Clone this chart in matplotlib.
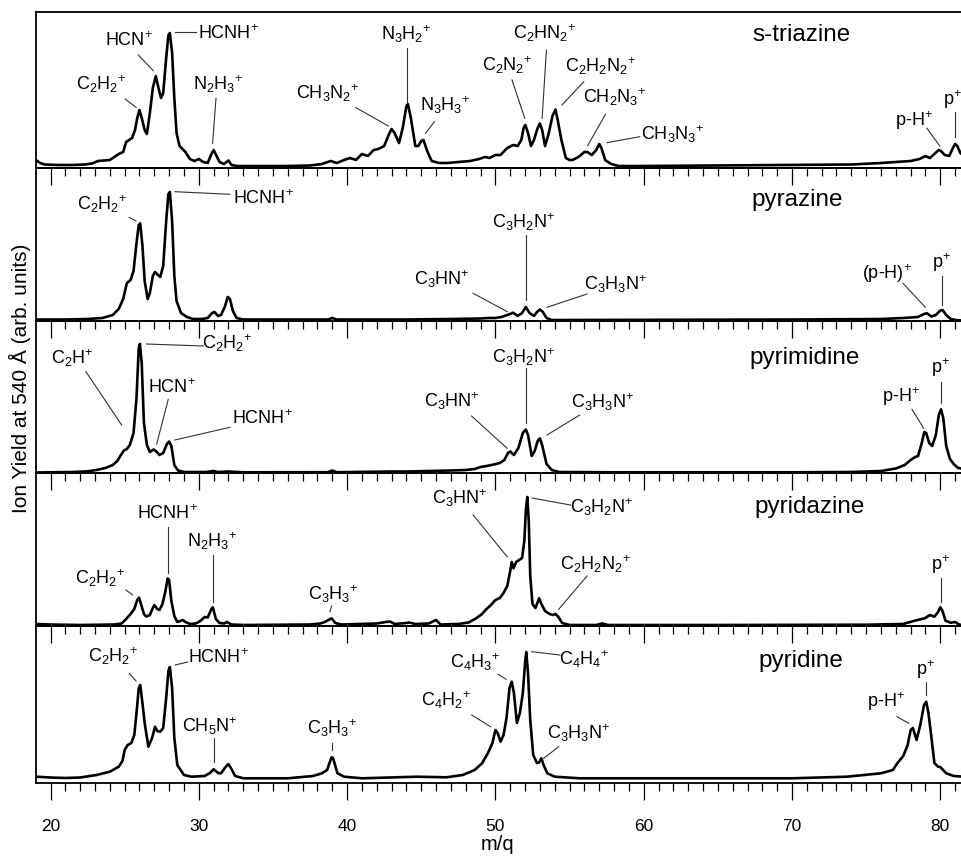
import matplotlib
matplotlib.use("Agg")
import matplotlib.pyplot as plt
from matplotlib.ticker import MultipleLocator

# ---------------- data (m/q, ion yield in arb. units) ----------------
striazine_mz = [19.02, 19.3, 19.6, 20.5, 21.5, 22.3, 22.8, 23.2, 23.6, 24.0, 24.3, 24.6, 24.9, 25.1, 25.3,
                25.5, 25.7, 25.85, 26.0, 26.15, 26.35, 26.5, 26.7, 26.9, 27.1, 27.25, 27.45, 27.6, 27.8,
                27.95, 28.05, 28.2, 28.35, 28.5, 28.7, 28.9, 29.1, 29.4, 29.7, 30.0, 30.3, 30.6, 30.85,
                31.0, 31.2, 31.4, 31.7, 32.0, 32.2, 32.6, 34, 36, 37.5, 38.3, 38.9, 39.3, 39.8, 40.2,
                40.6, 41.0, 41.4, 41.8, 42.1, 42.5, 42.8, 43.0, 43.2, 43.5, 43.75, 44.0, 44.1, 44.3,
                44.6, 44.8, 45.0, 45.15, 45.4, 45.7, 46.2, 46.8, 47.5, 48.3, 48.9, 49.3, 49.6, 50.0,
                50.34, 50.8, 51.2, 51.5, 51.75, 51.9, 52.02, 52.2, 52.4, 52.6, 52.85, 53.0, 53.15,
                53.35, 53.6, 53.85, 54.05, 54.2, 54.45, 54.75, 55.0, 55.2, 55.6, 56.0, 56.2, 56.5,
                56.8, 57.0, 57.15, 57.4, 57.8, 58.3, 60, 65, 70, 74, 76, 77, 78, 78.6, 79.0, 79.3,
                79.6, 79.9, 80.05, 80.3, 80.6, 80.85, 81.0, 81.15, 81.35, 81.6]
striazine_y = [8, 5, 3.5, 3, 3, 3.5, 4.5, 7, 7.5, 8, 11, 14, 16, 26, 28,
               30, 38, 50, 58, 50, 38, 34, 55, 80, 92, 82, 70, 75, 110,
               133, 135, 115, 70, 35, 22, 19, 16, 9, 7, 9, 6, 5, 14,
               18, 12, 6, 4, 7.5, 3, 2, 2, 2, 2.5, 4, 7, 5, 8, 10,
               8, 14, 12, 18, 19, 22, 33, 39, 35, 25, 40, 62, 64, 50,
               22, 22, 27, 28, 17, 7, 5, 5, 6, 7, 9, 11, 10, 13,
               13, 20, 23, 22, 28, 40, 43, 35, 22, 28, 40, 44.5, 38,
               22, 35, 52, 58.5, 48, 28, 10, 8, 8, 11, 16, 16, 13,
               18, 24, 20, 8, 4, 2, 2, 2.5, 3, 3.5, 5, 6, 7, 9, 12, 10,
               14, 18, 17, 13, 12, 20, 24, 22, 15, 12]

pyrazine_mz = [19.02, 21, 22.5, 23.5, 24.2, 24.6, 24.9, 25.15, 25.4, 25.6, 25.8, 25.95, 26.05, 26.2,
               26.35, 26.55, 26.7, 26.9, 27.05, 27.25, 27.4, 27.6, 27.8, 27.95, 28.05, 28.2, 28.35,
               28.5, 28.8, 29.2, 29.6, 30.2, 30.6, 30.9, 31.05, 31.3, 31.5, 31.75, 31.95, 32.1, 32.3,
               32.55, 33, 35, 38.7, 39.0, 39.3, 44, 47, 49, 49.5, 50.0, 50.4, 50.8, 51.2, 51.5, 51.8,
               52.05, 52.3, 52.6, 52.8, 53.0, 53.2, 53.45, 53.8, 55, 70, 76, 77.5, 78.5, 78.9, 79.1,
               79.4, 79.7, 80.0, 80.15, 80.4, 80.7, 81.1, 81.6]
pyrazine_y = [1.5, 1.5, 2, 3, 6, 12, 22, 38, 41, 50, 78, 96, 97.7, 75,
              40, 22, 28, 45, 49, 46, 44, 55, 100, 127, 129, 100, 45,
              20, 8, 4, 2, 2, 3, 8, 9, 5, 6, 14, 24, 22, 10,
              3, 1.5, 1.5, 1.5, 3, 1.5, 1.5, 2, 2.5, 3, 3, 4, 6, 8.3, 5, 8,
              14, 8, 5, 9, 11.5, 9, 3, 1, 1, 1.5, 2, 3, 4, 7, 7.7,
              4.5, 6, 10.5, 11, 6, 2, 0.8, 0.5]

pyrimidine_mz = [19.02, 21.5, 22.5, 23.1, 23.7, 24.2, 24.5, 24.75, 24.95, 25.15, 25.35, 25.6, 25.8,
                 25.95, 26.03, 26.15, 26.3, 26.5, 26.7, 26.95, 27.1, 27.35, 27.6, 27.85, 28.0, 28.15,
                 28.35, 28.6, 29.0, 30.5, 31.0, 31.3, 32.0, 33, 38.7, 39.0, 39.3, 43, 44, 47, 48,
                 48.6, 49.0, 49.4, 49.9, 50.3, 50.6, 50.85, 51.0, 51.25, 51.55, 51.85, 52.05, 52.2,
                 52.45, 52.65, 52.85, 53.0, 53.15, 53.45, 53.8, 54.3, 58, 70, 74, 76, 77, 77.6, 78.0,
                 78.3, 78.5, 78.75, 78.92, 79.05, 79.25, 79.45, 79.7, 79.9, 80.05, 80.2, 80.4, 80.65,
                 80.9, 81.2, 81.6]
pyrimidine_y = [0.5, 1, 1.7, 3, 5, 8, 12, 18, 22.5, 24, 28, 40, 75,
                125, 129, 110, 50, 28, 21, 23.5, 22, 18, 20, 29, 31.5, 27,
                8, 2.5, 1, 1, 2, 1, 1.5, 0.7, 0.8, 2.5, 0.8, 1.5, 1.5, 2.5, 3,
                4, 6, 7, 8.5, 10, 13, 20, 21.5, 18, 25, 40, 43.5, 38,
                17, 22, 32, 34.7, 28, 9, 3, 1, 0.7, 0.7, 1, 2, 4.5, 8, 13,
                16, 17, 30, 41, 40, 30, 27, 38, 58, 63.7, 55, 27, 14,
                9, 5, 4]

pyridazine_mz = [19.02, 20, 22, 24.3, 24.8, 25.1, 25.4, 25.65, 25.85, 25.97, 26.1, 26.3, 26.45, 26.7,
                 26.9, 27.0, 27.2, 27.35, 27.55, 27.75, 27.9, 28.0, 28.15, 28.35, 28.55, 28.75, 28.9,
                 29.1, 29.4, 29.8, 30.1, 30.4, 30.6, 30.85, 30.95, 31.15, 31.4, 31.7, 31.9, 32.2, 33,
                 37.5, 38.2, 38.5, 38.8, 38.95, 39.2, 39.6, 42.0, 42.6, 42.9, 43.2, 44.0, 44.2, 44.6,
                 45.5, 46.0, 46.3, 47.5, 48.2, 48.7, 49.1, 49.4, 49.7, 50.0, 50.3, 50.55, 50.8, 51.0,
                 51.1, 51.22, 51.4, 51.6, 51.8, 51.95, 52.05, 52.15, 52.25, 52.35, 52.5, 52.7, 52.95,
                 53.1, 53.35, 53.6, 53.85, 54.05, 54.25, 54.5, 55.0, 56.8, 57.2, 57.6, 65, 75, 77.5,
                 78.2, 78.6, 78.95, 79.3, 79.6, 79.85, 80.0, 80.15, 80.35, 80.7, 81.0, 81.3, 81.6]
pyridazine_y = [2, 1.5, 1, 1.5, 2.5, 7, 12, 17, 26, 28.3, 22, 12, 9.5, 11,
                18, 21, 17, 16, 22, 35, 47.5, 46, 25, 10, 4, 5, 6,
                4, 2, 2.5, 5, 9, 8.5, 17, 18.7, 7, 3, 2.5, 4, 1.5, 1,
                1.5, 2.5, 4, 6.5, 7.7, 3, 1.5, 2.5, 4, 4.5, 2, 3, 3.5, 2,
                2.5, 6, 1.5, 2, 3.5, 7.7, 12, 17, 21, 26, 28, 33, 40, 55,
                64, 57.7, 64, 66, 68, 85, 115, 129, 105, 50, 22, 18, 27.7,
                22, 15, 12.5, 11, 12, 9, 3, 1, 1, 2.5, 1, 1, 1.3, 2,
                5, 6.5, 7.7, 11, 9.3, 14, 18.7, 15, 5.3, 3.3, 4, 1.3, 1]

pyridine_mz = [19.02, 20, 21, 22, 23.1, 24.0, 24.6, 24.85, 25.0, 25.2, 25.45, 25.65, 25.8, 25.95, 26.05,
               26.2, 26.35, 26.6, 26.85, 27.05, 27.2, 27.4, 27.6, 27.8, 27.95, 28.05, 28.2, 28.35,
               28.55, 29.0, 29.5, 30.4, 30.75, 31.0, 31.3, 31.5, 31.8, 32.0, 32.2, 32.45, 33.0, 36,
               37.7, 38.3, 38.65, 38.95, 39.05, 39.35, 39.8, 41, 44.7, 46.7, 47.8, 48.6, 49.1, 49.5,
               49.8, 50.0, 50.15, 50.35, 50.55, 50.75, 50.95, 51.1, 51.25, 51.45, 51.65, 51.85, 52.0,
               52.08, 52.2, 52.35, 52.55, 52.8, 52.95, 53.1, 53.25, 53.5, 54.0, 55.7, 70, 73.7, 76.0,
               76.8, 77.1, 77.5, 77.8, 78.0, 78.15, 78.4, 78.65, 78.9, 79.05, 79.2, 79.4, 79.6,
               79.85, 80.0, 80.4, 80.9, 81.6]
pyridine_y = [6.3, 5.5, 5, 5.5, 8, 11.3, 16.3, 22, 33, 38, 40, 48, 70, 95, 98,
              80, 60, 36.3, 45, 56.3, 52, 51.3, 55, 85, 112, 116, 95, 45,
              18, 8, 6.3, 7, 10, 13.7, 10, 9.7, 16, 19, 14, 7, 4.7, 4.7,
              7, 9.7, 13, 25.7, 25, 9.7, 6.3, 4.7, 6.3, 5.7, 8, 13, 19.7, 30,
              40, 53, 50, 41.3, 48, 65, 95, 101.3, 90, 60, 70, 90, 120,
              131, 110, 63, 28, 20, 20.5, 24.7, 18, 9.7, 6.3, 4.7, 4.7, 6.3, 9.7,
              13, 19.7, 27, 38, 53, 55, 43, 58, 78, 81.3, 70, 46, 20,
              16.3, 16, 9.7, 7, 6.3]

molecules = ["s-triazine", "pyrazine", "pyrimidine", "pyridazine", "pyridine"]
series_mz = [striazine_mz, pyrazine_mz, pyrimidine_mz, pyridazine_mz, pyridine_mz]
series_y = [striazine_y, pyrazine_y, pyrimidine_y, pyridazine_y, pyridine_y]

x_ticks = [20, 30, 40, 50, 60, 70, 80]

# ---------------- peak labels (layout) ----------------
# (label, text x, text y, leader x1, y1, x2, y2)
labels_striazine = [
    ("C2H2+", 23.43, 83.7, 25.03, 69, 25.77, 60.7),
    ("HCN+", 25.27, 127.3, 25.92, 113, 26.93, 97.3),
    ("HCNH+", 31.99, 134.7, 28.39, 135.7, 29.78, 135.7),
    ("N2H3+", 31.31, 84, 31.16, 69.7, 30.93, 24.7),
    ("CH3N2+", 38.66, 74.7, 40.6, 60.3, 42.78, 42),
    ("N3H2+", 44.01, 134, 44.01, 119.7, 44.01, 64.7),
    ("N3H3+", 46.62, 63, 45.89, 46.3, 45.29, 34.7),
    ("C2N2+", 50.79, 103, 51.12, 88, 51.98, 49.7),
    ("C2HN2+", 53.35, 134.7, 53.44, 118, 53.15, 49.7),
    ("C2H2N2+", 57.08, 102, 55.96, 86.3, 54.49, 63),
    ("CH2N3+", 58.02, 70.7, 57.42, 53.7, 56.22, 22.3),
    ("CH3N3+", 61.96, 34, 59.73, 31.3, 57.53, 25.3),
    ("p-H+", 78.25, 47.3, 79.1, 39.7, 79.96, 22),
    ("p+", 80.85, 68, 81.0, 56.3, 81.0, 31.3),
]
labels_pyrazine = [
    ("C2H2+", 23.5, 117, 25.3, 103.7, 25.76, 100),
    ("HCNH+", 34.36, 122.7, 28.39, 129.3, 32.1, 126.7),
    ("C3HN+", 46.37, 41.7, 48.5, 27.7, 50.8, 9.3),
    ("C3H2N+", 51.91, 99.3, 52.09, 86, 52.09, 21),
    ("C3H3N+", 58.13, 37, 56.18, 27, 53.48, 13.7),
    ("(p-H)+", 76.4, 47, 77.48, 37.7, 78.99, 13.7),
    ("p+", 80.11, 58.3, 80.11, 45, 80.11, 16),
]
labels_pyrimidine = [
    ("C2H+", 21.49, 114.7, 22.39, 101.3, 24.8, 48),
    ("C2H2+", 31.88, 130, 26.48, 129, 30.3, 127),
    ("HCN+", 28.17, 85.7, 27.94, 73.7, 27.16, 29),
    ("HCNH+", 34.28, 54, 32.1, 45.7, 28.39, 33),
    ("C3HN+", 47.04, 72.3, 48.39, 57, 50.79, 24.7),
    ("C3H2N+", 51.91, 116.3, 52.09, 104.7, 52.09, 49.7),
    ("C3H3N+", 57.24, 71.3, 55.69, 58, 53.48, 38),
    ("p-H+", 77.35, 76.3, 78.09, 63.7, 78.88, 44.7),
    ("p+", 80.04, 105.7, 80.07, 91.3, 80.07, 69.7),
]
labels_pyridazine = [
    ("C2H2+", 23.37, 47.7, 25.09, 36, 25.54, 31),
    ("HCNH+", 27.88, 112, 27.9, 99.3, 27.9, 53.3),
    ("N2H3+", 30.91, 85.3, 30.93, 71, 30.93, 24.3),
    ("C3H3+", 39.07, 32, 38.95, 20, 38.84, 14.3),
    ("C3HN+", 47.6, 128, 48.5, 111, 50.79, 69.3),
    ("C3H2N+", 57.19, 119, 52.47, 128, 55.06, 121),
    ("C2H2N2+", 56.74, 62, 56.18, 50, 54.27, 16.7),
    ("p+", 80.04, 61, 80.04, 47.7, 80.04, 24.3),
]
labels_pyridine = [
    ("C2H2+", 24.25, 127, 25.31, 109.7, 25.77, 102),
    ("HCNH+", 31.3, 125, 28.41, 118, 29.25, 121),
    ("CH5N+", 30.75, 57, 31.02, 44.7, 31.02, 21.3),
    ("C3H3+", 39.0, 54.7, 38.95, 40.3, 38.95, 33),
    ("C4H2+", 46.7, 83, 48.4, 68, 49.68, 56.3),
    ("C4H3+", 48.62, 121, 50.2, 108.7, 50.72, 103.7),
    ("C4H4+", 56.0, 124, 52.45, 131.3, 54.36, 128),
    ("C3H3N+", 55.62, 50.3, 54.27, 36.3, 53.26, 24.7),
    ("p-H+", 76.34, 81.3, 77.08, 66.3, 77.87, 59.7),
    ("p+", 79.03, 113, 79.06, 101.3, 79.06, 88),
]
panel_labels = [labels_striazine, labels_pyrazine, labels_pyrimidine, labels_pyridazine, labels_pyridine]

# ---------------- style / layout ----------------
plt.rcParams['font.family'] = ['Liberation Sans', 'DejaVu Sans']
plt.rcParams['mathtext.fontset'] = 'custom'
plt.rcParams['mathtext.rm'] = 'Liberation Sans'
plt.rcParams['mathtext.it'] = 'Liberation Sans:italic'
plt.rcParams['mathtext.bf'] = 'Liberation Sans:bold'
plt.rcParams['mathtext.default'] = 'regular'

W, H = 961, 857
fig = plt.figure(figsize=(W / 100, H / 100), dpi=100)

# panel pixel extents (top, bottom)
panel_px = [(12, 168), (168, 321), (321, 473), (473, 626), (626, 783)]
name_pos = [(0.825, 0.853), (0.82, 0.79), (0.828, 0.757), (0.834, 0.78), (0.824, 0.78)]
left_px, right_px = 36, 964
x_lo = 20 + (left_px - 50.5) / 14.83
x_hi = 20 + (right_px - 50.5) / 14.83


def chem(s):
    out = ""
    for ch in s:
        if ch.isdigit():
            out += "$_{%s}$" % ch
        elif ch == "+":
            out += "$^{+}$"
        else:
            out += ch
    return out


for i, (top, bot) in enumerate(panel_px):
    ax = fig.add_axes([left_px / W, 1 - bot / H, (right_px - left_px) / W, (bot - top) / H])
    ax.set_facecolor('none')
    ax.plot(series_mz[i], series_y[i], color='black', lw=1.9, solid_joinstyle='round')
    ax.set_xlim(x_lo, x_hi)
    ax.set_ylim(0, bot - top)
    ax.set_yticks([])
    ax.xaxis.set_major_locator(MultipleLocator(10))
    ax.xaxis.set_minor_locator(MultipleLocator(1))
    ax.tick_params(axis='x', which='major', direction='out', length=12, width=0.9,
                   pad=14, labelsize=12.5)
    ax.tick_params(axis='x', which='minor', direction='out', length=5.8, width=0.9)
    for sp in ax.spines.values():
        sp.set_linewidth(1.3)
    if i < len(panel_px) - 1:
        ax.tick_params(axis='x', labelbottom=False)
    else:
        ax.set_xticks(x_ticks)
    ax.text(name_pos[i][0], name_pos[i][1], molecules[i], transform=ax.transAxes,
            ha='center', va='center', fontsize=17.5)
    for lab, tx, ty, x1, y1, x2, y2 in panel_labels[i]:
        ax.plot([x1, x2], [y1, y2], color='#333333', lw=0.8, clip_on=False)
        ax.text(tx, ty, chem(lab), ha='center', va='center', fontsize=13, clip_on=False)

fig.text(20 / W, 1 - 378 / H, "Ion Yield at 540 Å (arb. units)", rotation=90,
         ha='center', va='center', fontsize=15)
fig.text(497 / W, 1 - 845 / H, "m/q", ha='center', va='center', fontsize=14.5)

fig.savefig("out.png", dpi=100)
